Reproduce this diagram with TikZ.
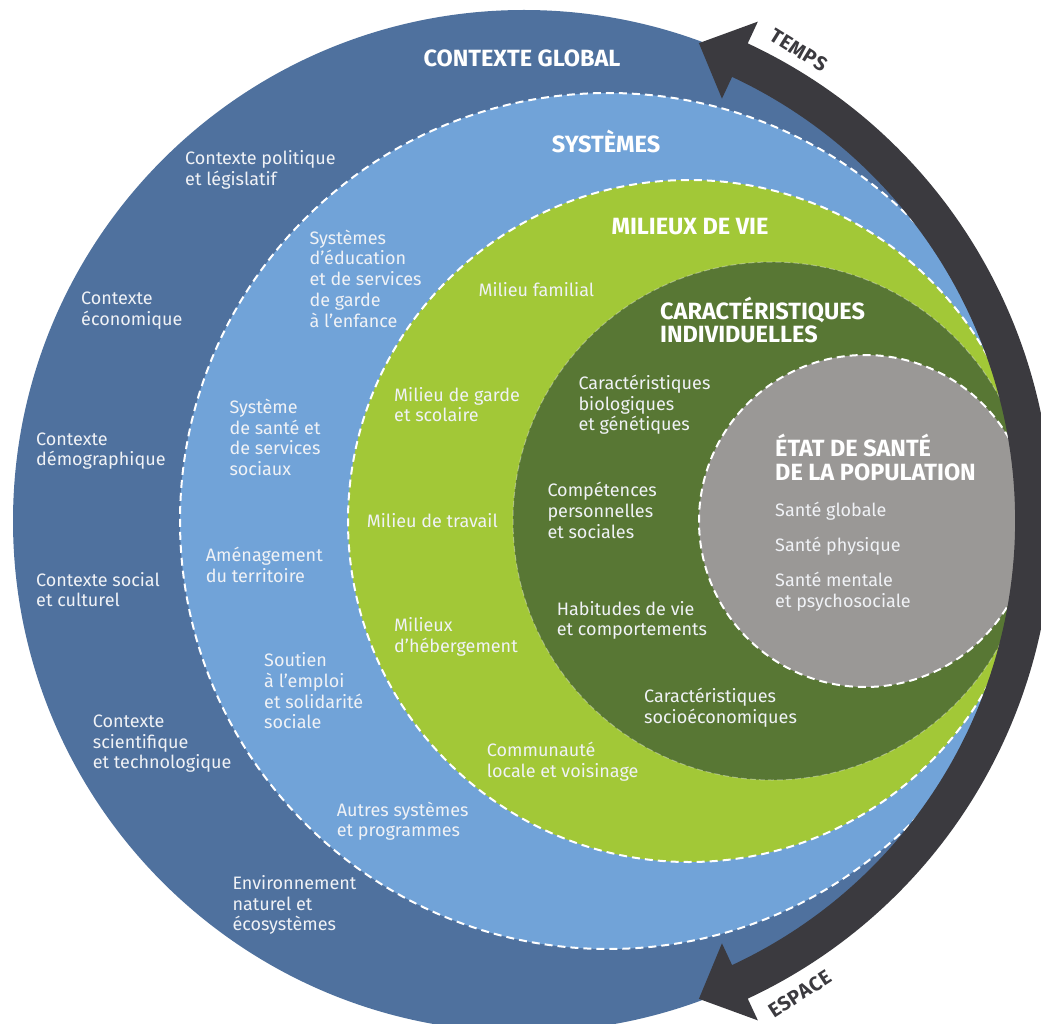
\documentclass[tikz,border=0pt]{standalone}
\usepackage{fontspec}
\setmainfont{Fira Sans}
\definecolor{outerblue}{RGB}{79,113,158}
\definecolor{sysblue}{RGB}{113,163,216}
\definecolor{lightgreen}{RGB}{162,200,55}
\definecolor{darkgreen}{RGB}{88,119,52}
\definecolor{healthgray}{RGB}{154,152,150}
\definecolor{arrowdark}{RGB}{59,58,63}
\definecolor{txtwhite}{RGB}{240,242,246}
\newcommand\txtblock[3]{\foreach \t [count=\i from 0] in {#3} {\node[lbl] at (#1,{#2+\i*20.7}) {\t};}}
\begin{document}
\begin{tikzpicture}[x=1pt,y=-1pt,
  lbl/.style={anchor=base west, inner sep=0pt, text=txtwhite, font=\fontsize{18}{21}\selectfont},
  hdr/.style={anchor=base, inner sep=0pt, text=white, font=\bfseries\fontsize{23.5}{24}\selectfont},
  hdrw/.style={hdr, anchor=base west},
  ring/.style={draw=white, line width=2pt, dash pattern=on 8pt off 5pt},
  faintring/.style={draw=white, draw opacity=0.35, line width=1pt, dash pattern=on 6pt off 3pt},
  arrowlbl/.style={inner sep=0pt, text=arrowdark, font=\bfseries\fontsize{20}{21}\selectfont\addfontfeatures{LetterSpace=4}}]
\clip (0,0) rectangle (1041,1024);
% circles
\fill[outerblue] (524,521) circle (511);
\fill[sysblue] (608,521) circle (428);
\draw[ring] (608,521) circle (428);
\fill[lightgreen] (689,521) circle (341);
\draw[ring] (689,521) circle (341);
\fill[darkgreen] (772,521) circle (259);
\draw[faintring] (772,521) circle (259);
\fill[healthgray] (865,521) circle (166);
\draw[ring] (865,521) circle (166);
% double-headed curved arrow
\begin{scope}[shift={(525,521)}]
\fill[arrowdark] (-65:527) arc[start angle=-65, end angle=65, radius=527]
  -- (65:551) -- (70:508.5) -- (65:466) -- (65:490)
  arc[start angle=65, end angle=-65, radius=490]
  -- (-65:466) -- (-70:508.5) -- (-65:551) -- cycle;
\end{scope}
\node[arrowlbl, rotate=-32] (temps) at (799,50) {TEMPS};
\node[arrowlbl, rotate=33] (espace) at (800,994) {ESPACE};
% headings
\node[hdr] (cg) at (522,66.7) {CONTEXTE GLOBAL};
\node[hdr] (sys) at (606,152.7) {SYSTÈMES};
\node[hdr] (mv) at (690,235) {MILIEUX DE VIE};
\node[hdrw] (ci1) at (660,319.3) {CARACTÉRISTIQUES};
\node[hdrw] (ci2) at (660,342) {INDIVIDUELLES};
\node[hdrw] (es1) at (775,456) {ÉTAT DE SANTÉ};
\node[hdrw] (es2) at (775,480) {DE LA POPULATION};
% contexte global
\txtblock{185}{165}{Contexte politique,et législatif}
\txtblock{81}{305}{Contexte,économique}
\txtblock{36}{445}{Contexte,démographique}
\txtblock{36}{586}{Contexte social,et culturel}
\txtblock{92.7}{727.3}{Contexte,scientifique,et technologique}
\txtblock{232.3}{889.3}{Environnement,naturel et,écosystèmes}
% systèmes
\txtblock{309.3}{244.3}{Systèmes,d’éducation,et de services,de garde,à l’enfance}
\txtblock{229.3}{413.3}{Système,de santé et,de services,sociaux}
\txtblock{205.7}{561.7}{Aménagement,du territoire}
\txtblock{264}{666.7}{Soutien,à l’emploi,et solidarité,sociale}
\txtblock{336.7}{816}{Autres systèmes,et programmes}
% milieux de vie
\txtblock{478.3}{296.7}{Milieu familial}
\txtblock{394}{401}{Milieu de garde,et scolaire}
\txtblock{366.7}{527.3}{Milieu de travail}
\txtblock{394}{631.7}{Milieux,d’hébergement}
\txtblock{486.7}{756.7}{Communauté,locale et voisinage}
% caractéristiques individuelles
\txtblock{578.3}{389.3}{Caractéristiques,biologiques,et génétiques}
\txtblock{547.3}{496.7}{Compétences,personnelles,et sociales}
\txtblock{556.7}{615}{Habitudes de vie,et comportements}
\txtblock{644}{702.7}{Caractéristiques,socioéconomiques}
% état de santé
\node[lbl] (s1) at (775,516.7) {Santé globale};
\node[lbl] (s2) at (775,551.7) {Santé physique};
\txtblock{775}{586.7}{Santé mentale,et psychosociale}
\end{tikzpicture}
\end{document}
